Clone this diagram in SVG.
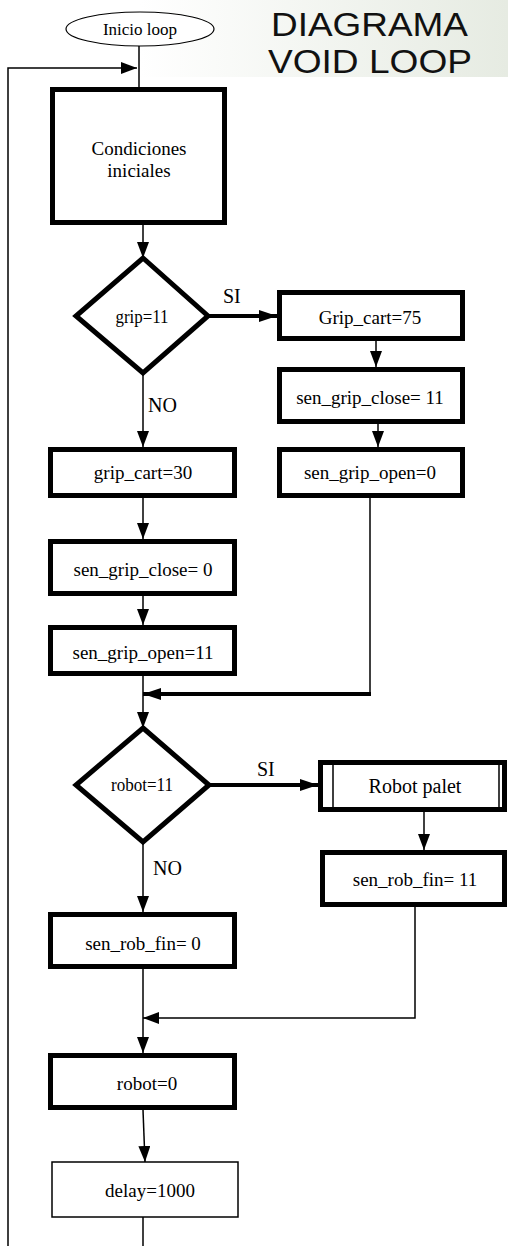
<svg xmlns="http://www.w3.org/2000/svg" width="508" height="1246" viewBox="0 0 508 1246">
<defs>
<linearGradient id="bg" x1="0" y1="0" x2="1" y2="0">
<stop offset="0" stop-color="#ffffff"/>
<stop offset="1" stop-color="#e6ebe2"/>
</linearGradient>
<marker id="ah" viewBox="0 0 16 12" refX="16" refY="6" markerWidth="16" markerHeight="12" markerUnits="userSpaceOnUse" orient="auto">
<path d="M0,0 L16,6 L0,12 Z" fill="#000"/>
</marker>
<marker id="ahb" viewBox="0 0 18 12" refX="18" refY="6" markerWidth="18" markerHeight="12" markerUnits="userSpaceOnUse" orient="auto">
<path d="M0,0 L18,6 L0,12 Z" fill="#000"/>
</marker>
</defs>
<style>
.box{fill:#fff;stroke:#000;stroke-width:5}
.thin{fill:#fff;stroke:#000;stroke-width:1.5}
.t{font-family:"Liberation Serif","Times New Roman",serif;font-size:19px;fill:#000;text-anchor:middle;dominant-baseline:central}
.ts{font-size:18px}
.lbl{font-family:"Liberation Serif","Times New Roman",serif;font-size:20px;fill:#000}
.c{fill:none;stroke:#000;stroke-width:1.5}
.ck{fill:none;stroke:#000;stroke-width:4}
.title{font-family:"Liberation Sans",Arial,sans-serif;font-size:33px;fill:#111}
</style>
<rect width="508" height="1246" fill="#fff"/>
<rect x="140" y="0" width="368" height="77" fill="url(#bg)"/>
<text class="title" x="271" y="36" textLength="197" lengthAdjust="spacingAndGlyphs">DIAGRAMA</text>
<text class="title" x="268" y="73" textLength="204" lengthAdjust="spacingAndGlyphs">VOID LOOP</text>

<g id="connectors">
<path class="c" d="M139,46 L139,87"/>
<path class="c" d="M8,1246 L8,68 L137,68" marker-end="url(#ah)"/>
<path class="c" d="M143,225 L143,258" marker-end="url(#ah)"/>
<path class="ck" d="M208,316 L277,316" marker-end="url(#ahb)"/>
<path class="c" d="M376,341 L376,367" marker-end="url(#ah)"/>
<path class="c" d="M378,424 L378,447" marker-end="url(#ah)"/>
<path class="c" d="M143,373 L143,447" marker-end="url(#ah)"/>
<path class="c" d="M143,498 L143,539" marker-end="url(#ah)"/>
<path class="c" d="M143,596 L143,625" marker-end="url(#ah)"/>
<path class="c" d="M370,498 L370,694"/>
<path class="ck" d="M371,694 L143,694" marker-end="url(#ahb)"/>
<path class="c" d="M143,676 L143,728" marker-end="url(#ah)"/>
<path class="ck" d="M209,785 L318,785" marker-end="url(#ahb)"/>
<path class="c" d="M424,812 L424,850" marker-end="url(#ah)"/>
<path class="c" d="M143,842 L143,912" marker-end="url(#ah)"/>
<path class="c" d="M143,969 L143,1053" marker-end="url(#ah)"/>
<path class="c" d="M415,907 L415,1018 L143,1018" marker-end="url(#ah)"/>
<path class="c" d="M143,1110 L145,1162" marker-end="url(#ah)"/>
<path class="c" d="M143,1217 L143,1246"/>
<text class="lbl" x="223" y="303">SI</text>
<text class="lbl" x="148" y="412">NO</text>
<text class="lbl" x="257" y="776">SI</text>
<text class="lbl" x="153" y="875">NO</text>
</g>

<g id="inicio">
<ellipse cx="140" cy="29" rx="74" ry="17" fill="#fff" stroke="#000" stroke-width="1.2"/>
<text class="t" x="140" y="29" style="font-size:17px">Inicio loop</text>
</g>
<g id="condiciones">
<rect class="box" x="52.5" y="89.5" width="172" height="133"/>
<text class="t" x="139" y="148">Condiciones</text>
<text class="t" x="139" y="170">iniciales</text>
</g>
<g id="grip11">
<path class="box" d="M143,258 L208,316 L143,373 L76,316 Z"/>
<text class="t ts" x="142" y="317" textLength="53" lengthAdjust="spacingAndGlyphs">grip=11</text>
</g>
<g id="gripcart75">
<rect class="box" x="279.5" y="292.5" width="183" height="46"/>
<text class="t" x="370" y="317">Grip_cart=75</text>
</g>
<g id="sengripclose11">
<rect class="box" x="279.5" y="369.5" width="183" height="52"/>
<text class="t" x="370" y="397">sen_grip_close= 11</text>
</g>
<g id="sengripopen0">
<rect class="box" x="279.5" y="449.5" width="183" height="46"/>
<text class="t" x="370" y="472">sen_grip_open=0</text>
</g>
<g id="gripcart30">
<rect class="box" x="50.5" y="449.5" width="184" height="46"/>
<text class="t" x="143" y="472">grip_cart=30</text>
</g>
<g id="sengripclose0">
<rect class="box" x="50.5" y="541.5" width="184" height="52"/>
<text class="t" x="143" y="569">sen_grip_close= 0</text>
</g>
<g id="sengripopen11">
<rect class="box" x="50.5" y="627.5" width="184" height="46"/>
<text class="t" x="143" y="652">sen_grip_open=11</text>
</g>
<g id="robot11">
<path class="box" d="M143,728 L209,785 L143,842 L76,785 Z"/>
<text class="t ts" x="142" y="785" textLength="62" lengthAdjust="spacingAndGlyphs">robot=11</text>
</g>
<g id="robotpalet">
<rect class="box" x="320.5" y="762.5" width="184" height="47"/>
<path d="M333,765 L333,807 M499,765 L499,807" stroke="#000" stroke-width="1.5"/>
<text class="t" x="415" y="786" style="font-size:20px">Robot palet</text>
</g>
<g id="senrobfin11">
<rect class="box" x="322.5" y="852.5" width="182" height="52"/>
<text class="t" x="415" y="879">sen_rob_fin= 11</text>
</g>
<g id="senrobfin0">
<rect class="box" x="50.5" y="914.5" width="184" height="52"/>
<text class="t" x="143" y="943">sen_rob_fin= 0</text>
</g>
<g id="robot0">
<rect class="box" x="50.5" y="1055.5" width="184" height="52"/>
<text class="t" x="147" y="1083">robot=0</text>
</g>
<g id="delay">
<rect class="thin" x="52" y="1162" width="186" height="55"/>
<text class="t" x="150" y="1190">delay=1000</text>
</g>
</svg>
